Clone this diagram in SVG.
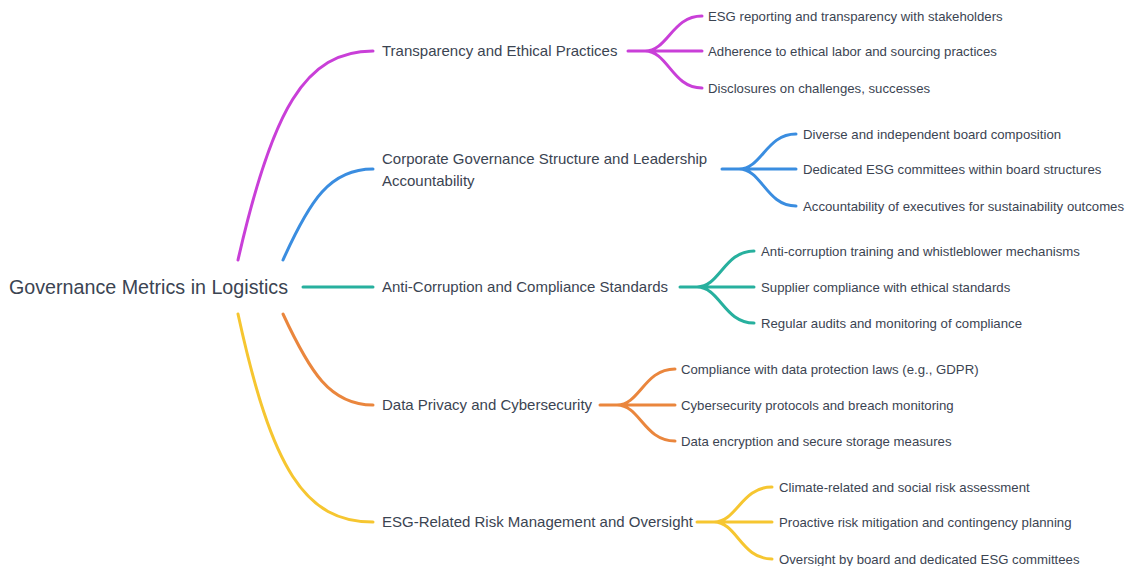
<svg xmlns="http://www.w3.org/2000/svg" width="1129" height="566" viewBox="0 0 1129 566">
<style>
.t{font-family:"Liberation Sans",Arial,sans-serif;fill:#3b4452}
.root{font-size:19.7px}
.l1{font-size:15px}
.l2{font-size:13.2px}
.c{fill:none;stroke-width:3;stroke-linecap:round}
.m{stroke:#c93fd8}.b{stroke:#3a8de0}.g{stroke:#27b09e}.o{stroke:#ea863d}.y{stroke:#f6c630}
</style>
<rect width="1129" height="566" fill="#ffffff"/>
<g id="connectors">
<path class="c m" d="M238,260 C272,110 305,51 373,51"/>
<path class="c b" d="M283,260 C310,200 330,169 373,169"/>
<path class="c g" d="M303,287 L373,287"/>
<path class="c o" d="M283,314 C310,372 330,405 373,405"/>
<path class="c y" d="M238,314 C272,470 305,522 373,522"/>
<path class="c m" d="M628,51 L645,51 C668,51 672,16 702,16 M645,51 L702,51 M645,51 C668,51 672,88 702,88"/>
<path class="c b" d="M722,169 L739,169 C762,169 766,134 796,134 M739,169 L796,169 M739,169 C762,169 766,206 796,206"/>
<path class="c g" d="M680,287 L697,287 C720,287 724,251 754,251 M697,287 L754,287 M697,287 C720,287 724,323 754,323"/>
<path class="c o" d="M600,405 L617,405 C640,405 644,369 675,369 M617,405 L675,405 M617,405 C640,405 644,441 675,441"/>
<path class="c y" d="M697,522 L714,522 C737,522 741,487 772,487 M714,522 L772,522 M714,522 C737,522 741,559 772,559"/>
</g>
<g id="root"><text class="t root" x="9" y="294">Governance Metrics in Logistics</text></g>
<g id="n1"><text class="t l1" x="382" y="56">Transparency and Ethical Practices</text></g>
<g id="n2"><text class="t l1" x="382" y="164">Corporate Governance Structure and Leadership</text><text class="t l1" x="382" y="186">Accountability</text></g>
<g id="n3"><text class="t l1" x="382" y="292">Anti-Corruption and Compliance Standards</text></g>
<g id="n4"><text class="t l1" x="382" y="410">Data Privacy and Cybersecurity</text></g>
<g id="n5"><text class="t l1" x="382" y="527">ESG-Related Risk Management and Oversight</text></g>
<g id="n1c">
<text class="t l2" x="708" y="21">ESG reporting and transparency with stakeholders</text>
<text class="t l2" x="708" y="56">Adherence to ethical labor and sourcing practices</text>
<text class="t l2" x="708" y="93">Disclosures on challenges, successes</text>
</g>
<g id="n2c">
<text class="t l2" x="803" y="139">Diverse and independent board composition</text>
<text class="t l2" x="803" y="174">Dedicated ESG committees within board structures</text>
<text class="t l2" x="803" y="211">Accountability of executives for sustainability outcomes</text>
</g>
<g id="n3c">
<text class="t l2" x="761" y="256">Anti-corruption training and whistleblower mechanisms</text>
<text class="t l2" x="761" y="292">Supplier compliance with ethical standards</text>
<text class="t l2" x="761" y="328">Regular audits and monitoring of compliance</text>
</g>
<g id="n4c">
<text class="t l2" x="681" y="374">Compliance with data protection laws (e.g., GDPR)</text>
<text class="t l2" x="681" y="410">Cybersecurity protocols and breach monitoring</text>
<text class="t l2" x="681" y="446">Data encryption and secure storage measures</text>
</g>
<g id="n5c">
<text class="t l2" x="779" y="492">Climate-related and social risk assessment</text>
<text class="t l2" x="779" y="527">Proactive risk mitigation and contingency planning</text>
<text class="t l2" x="779" y="564">Oversight by board and dedicated ESG committees</text>
</g>
</svg>
